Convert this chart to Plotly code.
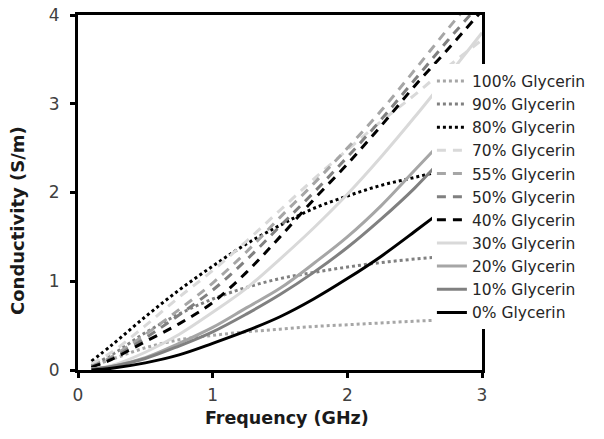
import plotly.graph_objects as go

freq = [0.1, 0.25, 0.5, 0.75, 1.0, 1.25, 1.5, 1.75, 2.0, 2.25, 2.5, 2.75, 3.0]

g100 = [0.04, 0.12, 0.25, 0.34, 0.39, 0.43, 0.46, 0.49, 0.51, 0.53, 0.55, 0.565, 0.58]
g90 = [0.05, 0.17, 0.42, 0.63, 0.80, 0.93, 1.03, 1.10, 1.16, 1.21, 1.25, 1.28, 1.30]
g80 = [0.10, 0.28, 0.60, 0.90, 1.17, 1.42, 1.63, 1.82, 1.96, 2.08, 2.17, 2.26, 2.34]
g70 = [0.07, 0.20, 0.50, 0.82, 1.12, 1.45, 1.80, 2.15, 2.48, 2.80, 3.10, 3.42, 3.72]
g55 = [0.04, 0.15, 0.40, 0.68, 0.98, 1.33, 1.72, 2.10, 2.50, 2.92, 3.38, 3.85, 4.30]
g50 = [0.04, 0.13, 0.36, 0.62, 0.90, 1.24, 1.62, 2.00, 2.40, 2.82, 3.27, 3.72, 4.15]
g40 = [0.03, 0.12, 0.32, 0.52, 0.76, 1.10, 1.50, 1.92, 2.32, 2.75, 3.20, 3.62, 4.05]
g30 = [0.01, 0.05, 0.20, 0.40, 0.65, 0.92, 1.25, 1.60, 1.98, 2.40, 2.85, 3.32, 3.80]
g20 = [0.01, 0.04, 0.14, 0.30, 0.48, 0.70, 0.92, 1.20, 1.50, 1.85, 2.25, 2.65, 3.05]
g10 = [0.01, 0.04, 0.13, 0.27, 0.43, 0.63, 0.85, 1.10, 1.38, 1.70, 2.05, 2.45, 2.85]
g0 = [0.00, 0.02, 0.08, 0.17, 0.30, 0.44, 0.60, 0.80, 1.03, 1.28, 1.56, 1.85, 2.15]

names = ["100% Glycerin", "90% Glycerin", "80% Glycerin", "70% Glycerin",
         "55% Glycerin", "50% Glycerin", "40% Glycerin", "30% Glycerin",
         "20% Glycerin", "10% Glycerin", "0% Glycerin"]
series = [g100, g90, g80, g70, g55, g50, g40, g30, g20, g10, g0]
colors = ["#a6a6a6", "#808080", "#000000", "#d9d9d9", "#a6a6a6", "#808080",
          "#000000", "#d9d9d9", "#a6a6a6", "#808080", "#000000"]
DOT = "3px,3px"
DASH = "9px,7px"
dashes = [DOT, DOT, DOT, DASH, DASH, DASH, DASH, "solid", "solid", "solid", "solid"]

xticks = [0, 1, 2, 3]
yticks = [0, 1, 2, 3, 4]

fig = go.Figure()
for n, s, c, d in zip(names, series, colors, dashes):
    fig.add_trace(go.Scatter(x=freq, y=s, name=n, mode="lines",
                             line=dict(color=c, width=3, dash=d, shape="spline")))

font = "DejaVu Sans"
fig.update_layout(
    width=604, height=439,
    margin=dict(l=78, r=122, t=15, b=69, autoexpand=False),
    plot_bgcolor="white", paper_bgcolor="white",
    font=dict(family=font, color="#404040", size=17),
    showlegend=True,
    legend=dict(x=0.876, xanchor="left", y=0.861, yanchor="top",
                bgcolor="white", font=dict(family=font, size=15.5, color="#262626"),
                borderwidth=0, tracegroupgap=0),
    xaxis=dict(range=[0, 3], tickvals=xticks, showgrid=False, zeroline=False,
               showline=True, linecolor="black", linewidth=3, mirror=True,
               ticks="outside", ticklen=5, tickwidth=3, tickcolor="black",
               ticklabelstandoff=3, ticklabeloverflow="allow",
               tickfont=dict(size=17, color="#404040")),
    yaxis=dict(range=[0, 4], tickvals=yticks, showgrid=False, zeroline=False,
               showline=True, linecolor="black", linewidth=3, mirror=True,
               ticks="outside", ticklen=5, tickwidth=3, tickcolor="black",
               ticklabelstandoff=7, ticklabeloverflow="allow",
               tickfont=dict(size=17, color="#404040")),
    annotations=[
        dict(text="<b>Frequency (GHz)</b>", xref="paper", yref="paper",
             x=0.517, y=-0.135, xanchor="center", yanchor="middle", showarrow=False,
             font=dict(family=font, size=17.5, color="#1a1a1a")),
        dict(text="<b>Conductivity (S/m)</b>", xref="paper", yref="paper",
             x=-0.151, y=0.4225, xanchor="center", yanchor="middle", showarrow=False,
             textangle=-90, font=dict(family=font, size=18, color="#1a1a1a")),
    ],
)
fig.write_html("out.html", config={"displayModeBar": False},
               post_script="document.body.style.margin='0';")
